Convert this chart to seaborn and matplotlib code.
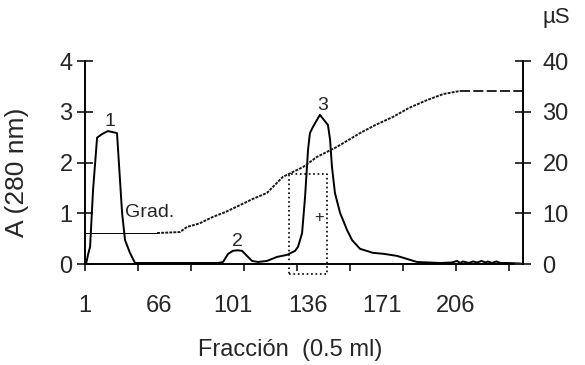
import matplotlib
matplotlib.use("Agg")
import matplotlib.pyplot as plt
import seaborn as sns

# absorbancia a 280 nm (eje izquierdo)
frac_abs = [31.5, 32.4, 33.4, 34.8, 36.7, 39.0, 41.8, 44.0, 46.1, 46.6, 48.5, 49.9,
            52.2, 54.6, 70.0, 85.0, 93.7, 96.1, 98.5, 100.8, 103.0, 105.1, 107.4,
            109.8, 112.6, 116.8, 121.6, 126.3, 130.1, 131.5, 133.4, 134.8, 136.2,
            137.1, 138.5, 141.8, 145.6, 146.6, 147.5, 148.9, 151.3, 154.6, 157.0,
            160.7, 166.8, 172.0, 178.2, 182.9, 187.6, 198.5, 204.0, 206.5, 208.0,
            209.3, 212.0, 214.0, 216.0, 218.0, 220.0, 221.0, 223.0, 225.0, 227.0,
            230.0, 236.5]
a280 = [0.0, 0.18, 0.34, 1.46, 2.49, 2.56, 2.62, 2.6, 2.58, 2.25, 1.0, 0.47,
        0.22, 0.02, 0.02, 0.02, 0.02, 0.04, 0.2, 0.26, 0.27, 0.26, 0.16,
        0.06, 0.04, 0.06, 0.14, 0.18, 0.26, 0.34, 0.61, 1.32, 2.25,
        2.58, 2.7, 2.94, 2.74, 2.45, 1.91, 1.4, 1.01, 0.67, 0.47,
        0.3, 0.22, 0.2, 0.16, 0.1, 0.04, 0.02, 0.03, 0.06, 0.02,
        0.05, 0.02, 0.05, 0.03, 0.06, 0.03, 0.05, 0.02, 0.05, 0.02,
        0.02, 0.01]

# conductividad (eje derecho), en tres tramos
frac_inicio = [31, 65]
cond_inicio = [6.1, 6.1]
frac_grad = [65, 75.8, 79.1, 85.0, 91.4, 97.0, 104.1, 110.0, 116.8, 124.4, 133.8,
             140.4, 149.9, 160.7, 168.0, 176.3, 184.0, 192.3, 200.0, 207.9]
cond_grad = [6.1, 6.3, 7.3, 8.0, 9.3, 10.2, 11.6, 12.8, 14.0, 17.2, 19.1,
             21.1, 23.1, 25.8, 27.4, 29.0, 30.8, 32.3, 33.5, 34.1]
frac_final = [207.9, 237.6]
cond_final = [34.1, 34.1]

# etiquetas
x_labels = ["1", "66", "101", "136", "171", "206"]
label_frac = [31, 66, 101, 136, 171, 206]
tick_frac = list(range(31, 237, 25))
picos = ["1", "2", "3"]
pico_frac = [42.8, 102.7, 143.3]
pico_a = [2.8, 0.45, 3.12]
fraccion_sel = (127.2, 145.2)
a_sel = (-0.2, 1.78)


def main():
    sns.set_style("white")
    plt.rcParams["font.family"] = ["Liberation Sans", "DejaVu Sans"]
    font_size = 17

    fig = plt.figure(figsize=(5.85, 3.65), dpi=100)
    ax = fig.add_axes([0.1453, 0.2767, 0.7487, 0.556])
    ax2 = ax.twinx()

    sns.lineplot(x=frac_abs, y=a280, ax=ax, color="black", linewidth=1.4,
                 estimator=None, sort=False)
    sns.lineplot(x=frac_inicio, y=cond_inicio, ax=ax2, color="black",
                 linewidth=0.7, estimator=None)
    sns.lineplot(x=frac_grad, y=cond_grad, ax=ax2, color="#1a1a1a",
                 linewidth=1.4, linestyle=(0, (1.5, 0.6)), estimator=None)
    sns.lineplot(x=frac_final, y=cond_final, ax=ax2, color="black",
                 linewidth=1.2, linestyle=(0, (6, 2)), estimator=None)

    ax.set_xlim(31, 237.6)
    ax.set_ylim(0, 4)
    ax2.set_ylim(0, 40)

    for a in (ax, ax2):
        for side in ("top", "left", "right", "bottom"):
            a.spines[side].set_visible(False)
    ax.spines["left"].set_visible(True)
    ax.spines["bottom"].set_visible(True)
    ax2.spines["right"].set_visible(True)
    for sp in (ax.spines["left"], ax.spines["bottom"], ax2.spines["right"]):
        sp.set_linewidth(1.4)
        sp.set_color("black")

    ax.set_yticks([0, 1, 2, 3, 4])
    ax.tick_params(axis="y", direction="inout", length=12, width=1.3,
                   labelsize=font_size, pad=3, left=True)
    ax2.set_yticks([0, 10, 20, 30, 40])
    ax2.tick_params(axis="y", direction="inout", length=12, width=1.3,
                    labelsize=font_size, pad=8, right=True)

    ax.xaxis.remove_overlapping_locs = False
    ax.set_xticks(tick_frac, labels=[""] * len(tick_frac))
    ax.set_xticks(label_frac, labels=x_labels, minor=True)
    ax.tick_params(axis="x", which="major", direction="out", length=5,
                   width=1.3, bottom=True)
    ax.tick_params(axis="x", which="minor", length=0, pad=22,
                   labelsize=font_size)

    ax.set_xlabel("Fracción  (0.5 ml)", fontsize=font_size)
    ax.xaxis.set_label_coords(0.468, -0.37)
    ax.set_ylabel("A (280 nm)", fontsize=19)
    ax.yaxis.set_label_coords(-0.128, 0.45)
    ax2.set_ylabel("µS", rotation=0, fontsize=16)
    ax2.yaxis.set_label_coords(1.075, 1.265)

    for txt, fx, fy in zip(picos, pico_frac, pico_a):
        ax.text(fx, fy, txt, ha="center", va="center", fontsize=14)
    ax.text(49.9, 1.02, "Grad.", ha="left", va="center", fontsize=14)

    x0, x1 = fraccion_sel
    y0, y1 = a_sel
    ax.plot([x0, x1, x1, x0, x0], [y0, y0, y1, y1, y0], color="black",
            linestyle=":", linewidth=1.2, clip_on=False)
    ax.text(141.4, 0.91, "+", ha="center", va="center", fontsize=12)

    fig.savefig("out.png", dpi=100)


if __name__ == "__main__":
    main()
